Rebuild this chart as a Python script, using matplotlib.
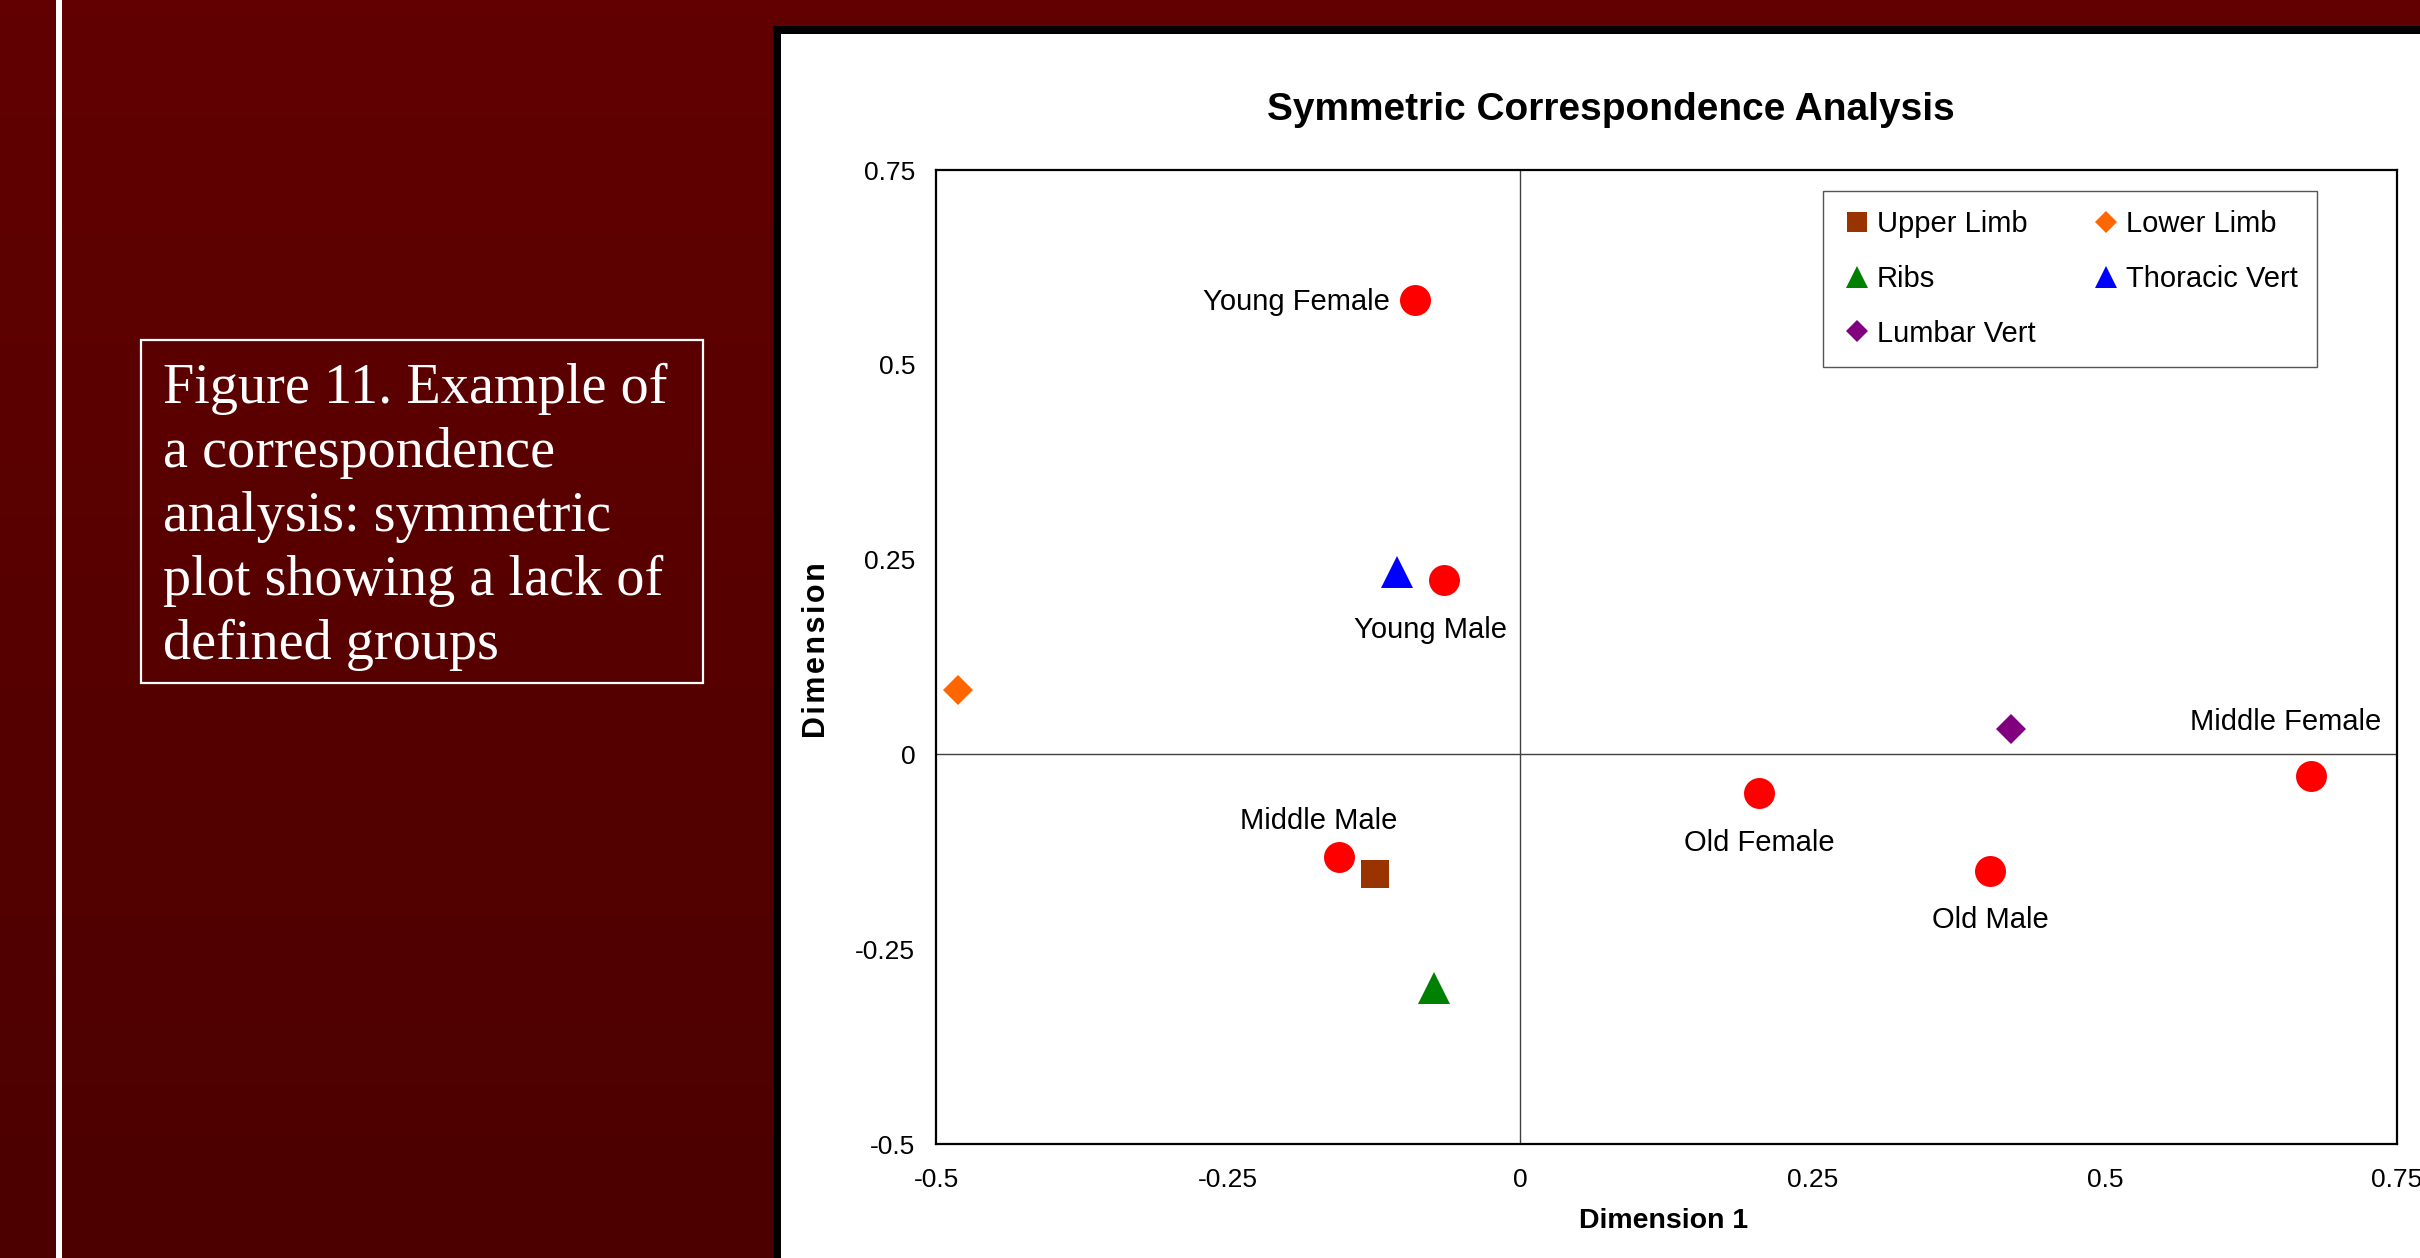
import matplotlib.pyplot as plt
from matplotlib.patches import Rectangle
import numpy as np

plt.rcParams['font.family'] = ['Liberation Sans', 'DejaVu Sans']

# row points: age / sex groups
groups = ["Young Female", "Young Male", "Middle Male", "Old Female", "Old Male", "Middle Female"]
group_x = [-0.090, -0.065, -0.155, 0.204, 0.402, 0.676]
group_y = [0.583, 0.224, -0.132, -0.049, -0.149, -0.028]

# column points: skeletal elements
elements = ["Upper Limb", "Lower Limb", "Ribs", "Thoracic Vert", "Lumbar Vert"]
element_x = [-0.124, -0.481, -0.074, -0.106, 0.420]
element_y = [-0.153, 0.083, -0.300, 0.234, 0.033]

ticks = [-0.5, -0.25, 0, 0.25, 0.5, 0.75]
tick_labels = ["-0.5", "-0.25", "0", "0.25", "0.5", "0.75"]

caption = ["Figure 11. Example of", "a correspondence", "analysis: symmetric",
           "plot showing a lack of", "defined groups"]

# marker, colour, size
element_style = {
    "Upper Limb": ("s", "#993300", 20),
    "Lower Limb": ("D", "#FF6600", 15.5),
    "Ribs": ("^", "#008000", 23),
    "Thoracic Vert": ("^", "#0000FF", 23),
    "Lumbar Vert": ("D", "#800080", 15.5),
}
# label offset in pixels and alignment
label_place = {
    "Young Female": (-25, -10, "right"),
    "Young Male": (-14, -58, "center"),
    "Middle Male": (-21, 28, "center"),
    "Old Female": (0, -58, "center"),
    "Old Male": (0, -57, "center"),
    "Middle Female": (-25, 46, "center"),
}

W, H = 2420, 1258
fig = plt.figure(figsize=(W / 100, H / 100), dpi=100)

# slide background in pixel coordinates
bg = fig.add_axes([0, 0, 1, 1], zorder=0)
bg.set_xlim(0, W)
bg.set_ylim(H, 0)
bg.axis("off")
grad = np.linspace(0, 1, 256).reshape(-1, 1)
top, bottom = np.array([0x62, 0, 0]) / 255, np.array([0x4c, 0, 0]) / 255
img = top + grad[..., None] * (bottom - top)
img = np.repeat(img, 2, axis=1)
bg.imshow(img, extent=[0, W, H, 0], aspect="auto")
bg.add_patch(Rectangle((56, 0), 6, H, color="white", lw=0))
bg.add_patch(Rectangle((141, 340), 562, 343, fill=False, ec="white", lw=1.6))
for i, line in enumerate(caption):
    bg.text(163, 403 + 64 * i, line, color="white", fontsize=40.5,
            family=["Liberation Serif", "DejaVu Serif"], va="baseline", ha="left")
bg.add_patch(Rectangle((773, 26), W - 773, H - 26, color="black", lw=0))
bg.add_patch(Rectangle((781, 34), W - 781, H - 34, color="white", lw=0))

ax = fig.add_axes([936 / W, 1 - 1144 / H, 1461 / W, 974 / H], zorder=1)
ax.set_xlim(-0.5, 0.75)
ax.set_ylim(-0.5, 0.75)
ax.axhline(0, color="#404040", lw=1, zorder=1)
ax.axvline(0, color="#404040", lw=1, zorder=1)

ax.plot(group_x, group_y, "o", color="#FF0000", ms=22.3, mew=0, zorder=3)
for name, x, y in zip(groups, group_x, group_y):
    dx, dy, ha = label_place[name]
    ax.annotate(name, (x, y), xytext=(dx, dy), textcoords="offset pixels",
                ha=ha, va="baseline", fontsize=21)

handles = {}
for name, x, y in zip(elements, element_x, element_y):
    m, c, s = element_style[name]
    handles[name], = ax.plot([x], [y], m, color=c, ms=s, mew=0, label=name, zorder=3)

order = ["Upper Limb", "Ribs", "Lumbar Vert", "Lower Limb", "Thoracic Vert"]
leg = ax.legend([handles[n] for n in order], order, ncol=2, loc="upper left",
                bbox_to_anchor=((1823 - 936) / 1461, (1144 - 191) / 974),
                borderaxespad=0, fontsize=21, markerscale=0.72, handlelength=1.0,
                handletextpad=0.2, borderpad=0.65, labelspacing=0.92,
                columnspacing=1.9, fancybox=False, framealpha=1)
leg.get_frame().set_edgecolor("#555555")
leg.get_frame().set_linewidth(1)

ax.set_xticks(ticks, tick_labels)
ax.set_yticks(ticks, tick_labels)
ax.tick_params(axis="both", length=0, labelsize=19)
ax.tick_params(axis="x", pad=17)
ax.tick_params(axis="y", pad=15)
for sp in ax.spines.values():
    sp.set_linewidth(1.6)
    sp.set_color("black")

ax.set_title("Symmetric Correspondence Analysis", fontsize=28, fontweight="bold",
             x=(1611 - 936) / 1461, y=(1144 - 120) / 974, va="baseline", pad=0)
ax.set_xlabel("Dimension 1", fontsize=20.5, fontweight="bold", va="center")
ax.xaxis.set_label_coords((1664 - 936) / 1461, (1144 - 1221) / 974)
ax.set_ylabel("\u200a".join("Dimension"), fontsize=22, fontweight="bold",
              va="center", ha="center")
ax.yaxis.set_label_coords((817 - 936) / 1461, (1144 - 650) / 974)

fig.savefig("out.png", dpi=100)
